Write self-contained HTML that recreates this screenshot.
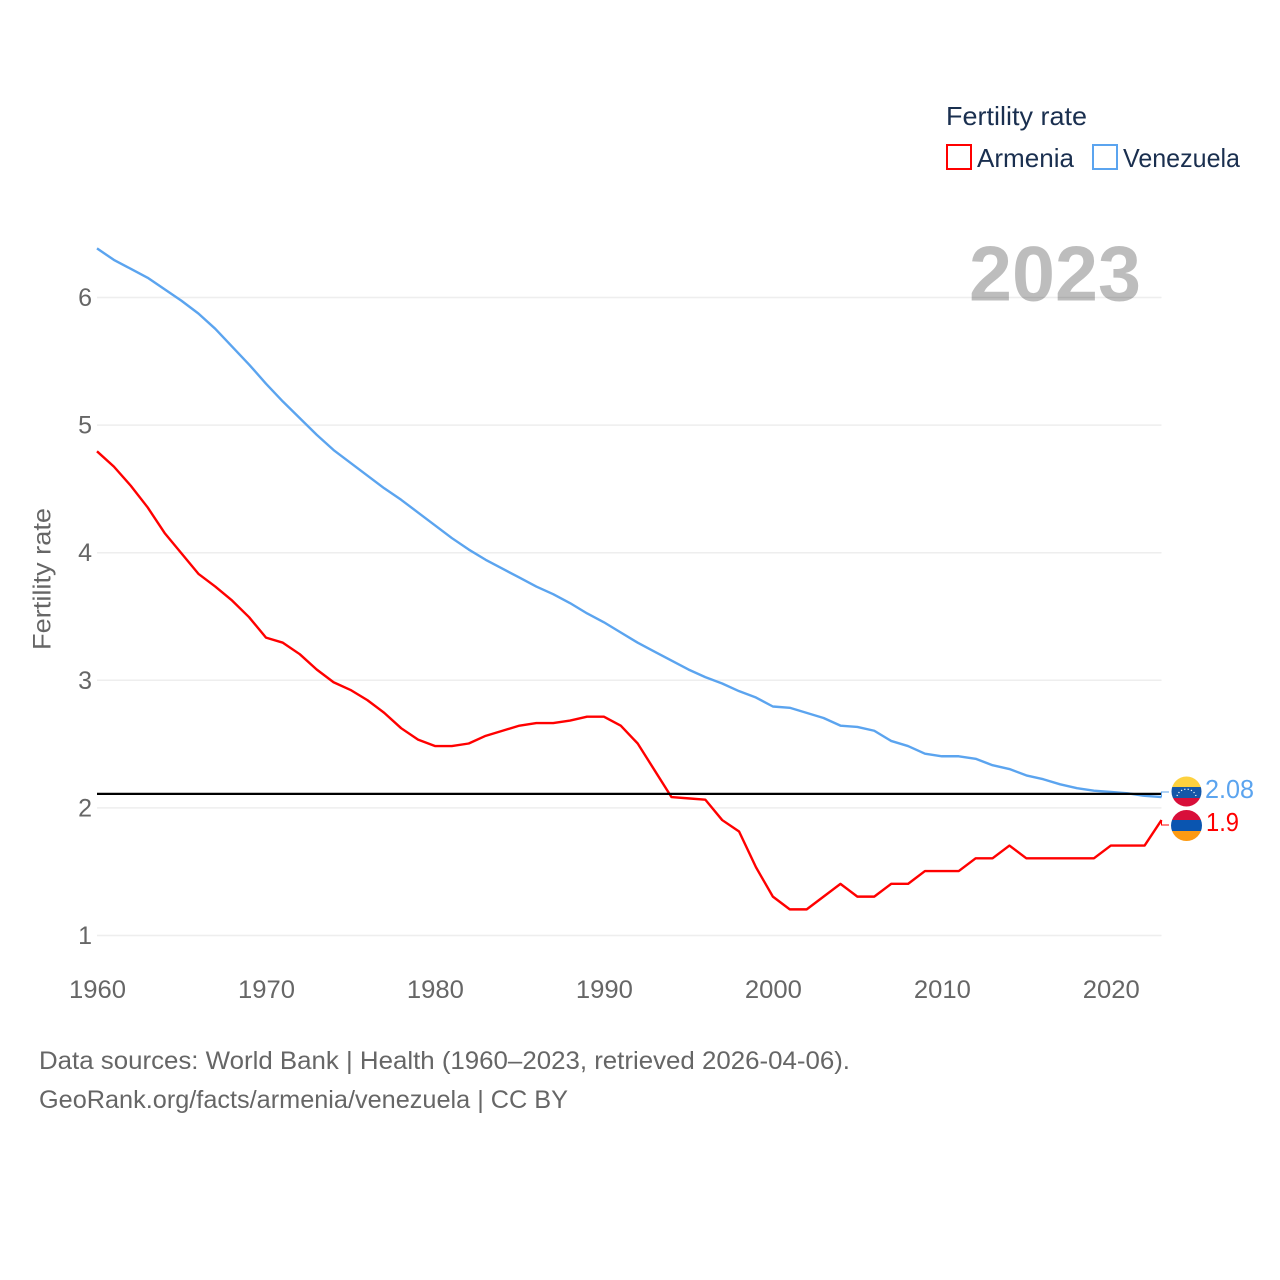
<!DOCTYPE html>
<html>
<head>
<meta charset="utf-8">
<title>Fertility rate: Armenia and Venezuela</title>
<style>
html,body{margin:0;padding:0;background:#fff}
svg{display:block}
text{font-family:"Liberation Sans",sans-serif}
</style>
</head>
<body>
<svg id="chart" width="1280" height="1280" viewBox="0 0 1280 1280" xmlns="http://www.w3.org/2000/svg">
  <defs>
    <clipPath id="clip-ve"><circle cx="1186.5" cy="791.5" r="15"/></clipPath>
    <clipPath id="clip-am"><circle cx="1186.5" cy="825.5" r="15.5"/></clipPath>
  </defs>
  <rect x="0" y="0" width="1280" height="1280" fill="#fff"/>
  <g id="grid"></g>
  <g id="yticks"></g>
  <g id="xticks"></g>
  <text transform="translate(50.5,650) rotate(-90)" font-size="25" fill="#666" textLength="142" lengthAdjust="spacingAndGlyphs">Fertility rate</text>
  <text x="969" y="300.5" font-size="78" font-weight="bold" fill="#000" fill-opacity="0.26" textLength="172" lengthAdjust="spacingAndGlyphs">2023</text>
  <g id="series"></g>

  <g clip-path="url(#clip-ve)">
    <rect x="1170" y="776" width="34" height="11" fill="#fdd13f"/>
    <rect x="1170" y="787" width="34" height="11" fill="#1557a8"/>
    <rect x="1170" y="798" width="34" height="11" fill="#d80f3a"/>
    <path d="M1177 796 A10 10 0 0 1 1196 796" fill="none" stroke="#fff" stroke-width="1.2" stroke-dasharray="1.2 2.2"/>
  </g>
  <g clip-path="url(#clip-am)">
    <rect x="1170" y="809" width="34" height="11" fill="#d80f3a"/>
    <rect x="1170" y="820" width="34" height="11" fill="#0a55b0"/>
    <rect x="1170" y="831" width="34" height="11" fill="#fd9a12"/>
  </g>
  <text x="1205" y="798" font-size="26" fill="#5ba4ef" textLength="49" lengthAdjust="spacingAndGlyphs">2.08</text>
  <text x="1206" y="831" font-size="26" fill="#ff0000" textLength="33" lengthAdjust="spacingAndGlyphs">1.9</text>

  <g>
    <text x="946" y="125" font-size="26" fill="#1a2f4f" textLength="141" lengthAdjust="spacingAndGlyphs">Fertility rate</text>
    <rect x="947" y="145" width="24" height="24" fill="#fff" stroke="#ff0000" stroke-width="2"/>
    <text x="977" y="167" font-size="26" fill="#1a2f4f" textLength="97" lengthAdjust="spacingAndGlyphs">Armenia</text>
    <rect x="1093" y="145" width="24" height="24" fill="#fff" stroke="#5ba4ef" stroke-width="2"/>
    <text x="1123" y="167" font-size="26" fill="#1a2f4f" textLength="117" lengthAdjust="spacingAndGlyphs">Venezuela</text>
  </g>

  <g>
    <text x="39" y="1069" font-size="25" fill="#666" textLength="811" lengthAdjust="spacingAndGlyphs">Data sources: World Bank | Health (1960–2023, retrieved 2026-04-06).</text>
    <text x="39" y="1108" font-size="25" fill="#666" textLength="529" lengthAdjust="spacingAndGlyphs">GeoRank.org/facts/armenia/venezuela | CC BY</text>
  </g>
</svg>
<script>
const startYear = 1960;
const yTickValues = [1, 2, 3, 4, 5, 6];
const xTickValues = [1960, 1970, 1980, 1990, 2000, 2010, 2020];
const referenceRate = 2.11;
const armeniaValues = [4.79,4.67,4.52,4.35,4.15,3.99,3.83,3.73,3.62,3.49,3.33,3.29,3.20,3.08,2.98,2.92,2.84,2.74,2.62,2.53,2.48,2.48,2.50,2.56,2.60,2.64,2.66,2.66,2.68,2.71,2.71,2.64,2.50,2.29,2.08,2.07,2.06,1.90,1.81,1.53,1.30,1.20,1.20,1.30,1.40,1.30,1.30,1.40,1.40,1.50,1.50,1.50,1.60,1.60,1.70,1.60,1.60,1.60,1.60,1.60,1.70,1.70,1.70,1.90];
const venezuelaValues = [6.38,6.29,6.22,6.15,6.06,5.97,5.87,5.75,5.61,5.47,5.32,5.18,5.05,4.92,4.80,4.70,4.60,4.50,4.41,4.31,4.21,4.11,4.02,3.94,3.87,3.80,3.73,3.67,3.60,3.52,3.45,3.37,3.29,3.22,3.15,3.08,3.02,2.97,2.91,2.86,2.79,2.78,2.74,2.70,2.64,2.63,2.60,2.52,2.48,2.42,2.40,2.40,2.38,2.33,2.30,2.25,2.22,2.18,2.15,2.13,2.12,2.11,2.09,2.08];

const NS = 'http://www.w3.org/2000/svg';
function xScale(year) { return 97 + (year - 1960) * (1161.5 - 97) / 63; }
function yScale(v) { return 935.5 - (v - 1) * 127.6; }
function lineY(v) { return yScale(v) - 0.6; }
function make(tag, attrs, parent) {
  const el = document.createElementNS(NS, tag);
  for (const k in attrs) el.setAttribute(k, attrs[k]);
  parent.appendChild(el);
  return el;
}
function linePath(values) {
  return values.map(function (v, i) {
    return (i ? 'L' : 'M') + xScale(startYear + i).toFixed(2) + ' ' + lineY(v).toFixed(2);
  }).join(' ');
}

const grid = document.getElementById('grid');
const yticks = document.getElementById('yticks');
const xticks = document.getElementById('xticks');
const series = document.getElementById('series');

yTickValues.forEach(function (v) {
  const line = make('line', { x1: 97, x2: 1161.5, y1: yScale(v), y2: yScale(v), stroke: '#eeeeee', 'stroke-width': 1.5 }, grid);
  
  
  const label = make('text', { x: 92, y: yScale(v) + 8.5, 'text-anchor': 'end', 'font-size': 25, fill: '#666' }, yticks);
  
  
  label.textContent = v;
});

xTickValues.forEach(function (year) {
  const label = make('text', { x: xScale(year) + 0.5, y: 998, 'text-anchor': 'middle', 'font-size': 25, fill: '#666', textLength: 57, lengthAdjust: 'spacingAndGlyphs' }, xticks);
  
  
  label.textContent = year;
});

const armeniaLine = make('path', { d: linePath(armeniaValues), fill: 'none', stroke: '#ff0000', 'stroke-width': 2.4, 'stroke-linejoin': 'round' }, series);



const venezuelaLine = make('path', { d: linePath(venezuelaValues), fill: 'none', stroke: '#5ba4ef', 'stroke-width': 2.4, 'stroke-linejoin': 'round' }, series);



const refLine = make('line', { x1: 97, x2: 1161.5, y1: yScale(referenceRate), y2: yScale(referenceRate), stroke: '#000', 'stroke-width': 2.2 }, series);



const lastX = xScale(startYear + armeniaValues.length - 1);
const venezuelaEnd = lineY(venezuelaValues[venezuelaValues.length - 1]);
const armeniaEnd = lineY(armeniaValues[armeniaValues.length - 1]);

const venezuelaConnector = make('path', { d: 'M' + lastX + ' ' + venezuelaEnd + ' V792 H1169', fill: 'none', stroke: '#5ba4ef', 'stroke-width': 1 }, series);



const armeniaConnector = make('path', { d: 'M' + lastX + ' ' + armeniaEnd + ' V825 H1169', fill: 'none', stroke: '#ff0000', 'stroke-width': 1 }, series);


</script>
</body>
</html>
